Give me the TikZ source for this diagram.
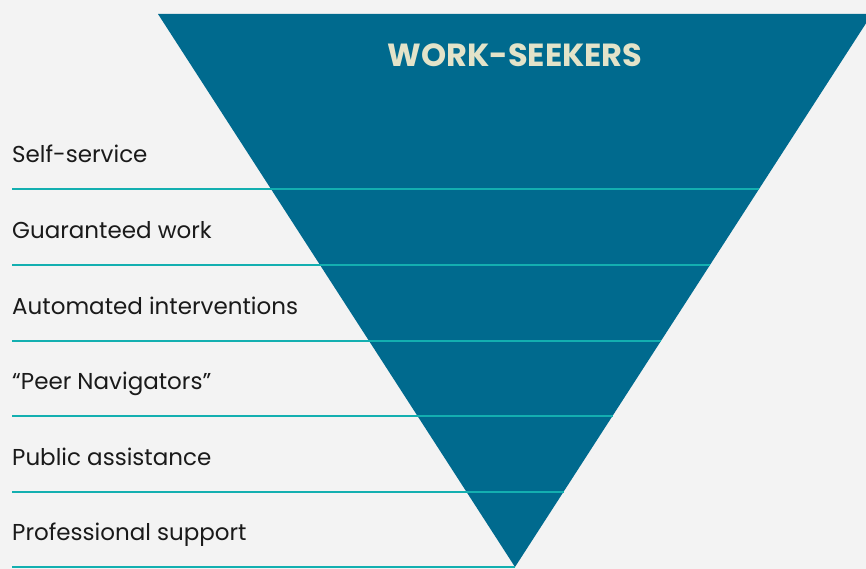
\documentclass[tikz,border=0pt]{standalone}
\usepackage{fontspec}
\setmainfont{Poppins}
\definecolor{pagegray}{HTML}{F3F3F3}
\definecolor{funnelblue}{HTML}{006A8E}
\definecolor{ruleteal}{HTML}{13AFB0}
\definecolor{titlecream}{HTML}{E3E3C9}
\definecolor{labelink}{HTML}{1A1A1A}
\tikzset{
	rung/.style={draw=ruleteal, line width=2.7pt},
	tierlabel/.style={anchor=base west, inner sep=0pt, text=labelink, font=\fontsize{23}{26}\selectfont},
	funneltitle/.style={anchor=base, inner sep=0pt, text=titlecream, font=\fontsize{32}{36}\selectfont\bfseries},
}
\begin{document}
\begin{tikzpicture}[x=1pt, y=-1pt]
	\fill[pagegray] (0,0) rectangle (866,569);
	\useasboundingbox (0,0) rectangle (866,569);
	\clip (0,0) rectangle (866,569);
	% funnel
	\coordinate (TL) at (158,14);
	\coordinate (TR) at (872,14);
	\coordinate (Apex) at (515,567);
	\fill[funnelblue] (TL) -- (TR) -- (Apex) -- cycle;
	\node[funneltitle] (Title) at (515,67) {WORK-SEEKERS};
	% rungs
	\coordinate (L1) at (12,189);
	\coordinate (R1) at (759,189);
	\coordinate (L2) at (12,265);
	\coordinate (R2) at (710,265);
	\coordinate (L3) at (12,341);
	\coordinate (R3) at (661,341);
	\coordinate (L4) at (12,416);
	\coordinate (R4) at (612.5,416);
	\coordinate (L5) at (12,492);
	\coordinate (R5) at (563.5,492);
	\coordinate (L6) at (12,567);
	\draw[rung] (L1) -- (R1);
	\draw[rung] (L2) -- (R2);
	\draw[rung] (L3) -- (R3);
	\draw[rung] (L4) -- (R4);
	\draw[rung] (L5) -- (R5);
	\draw[rung] (L6) -- (Apex);
	% tiers
	\node[tierlabel] (SelfService) at (12,163) {Self-service};
	\node[tierlabel] (Guaranteed) at (12,238) {Guaranteed work};
	\node[tierlabel] (Automated) at (12,314) {Automated interventions};
	\node[tierlabel] (Peer) at (12,389) {“Peer Navigators”};
	\node[tierlabel] (Public) at (12,465) {Public assistance};
	\node[tierlabel] (Professional) at (12,540) {Professional support};
\end{tikzpicture}
\end{document}
